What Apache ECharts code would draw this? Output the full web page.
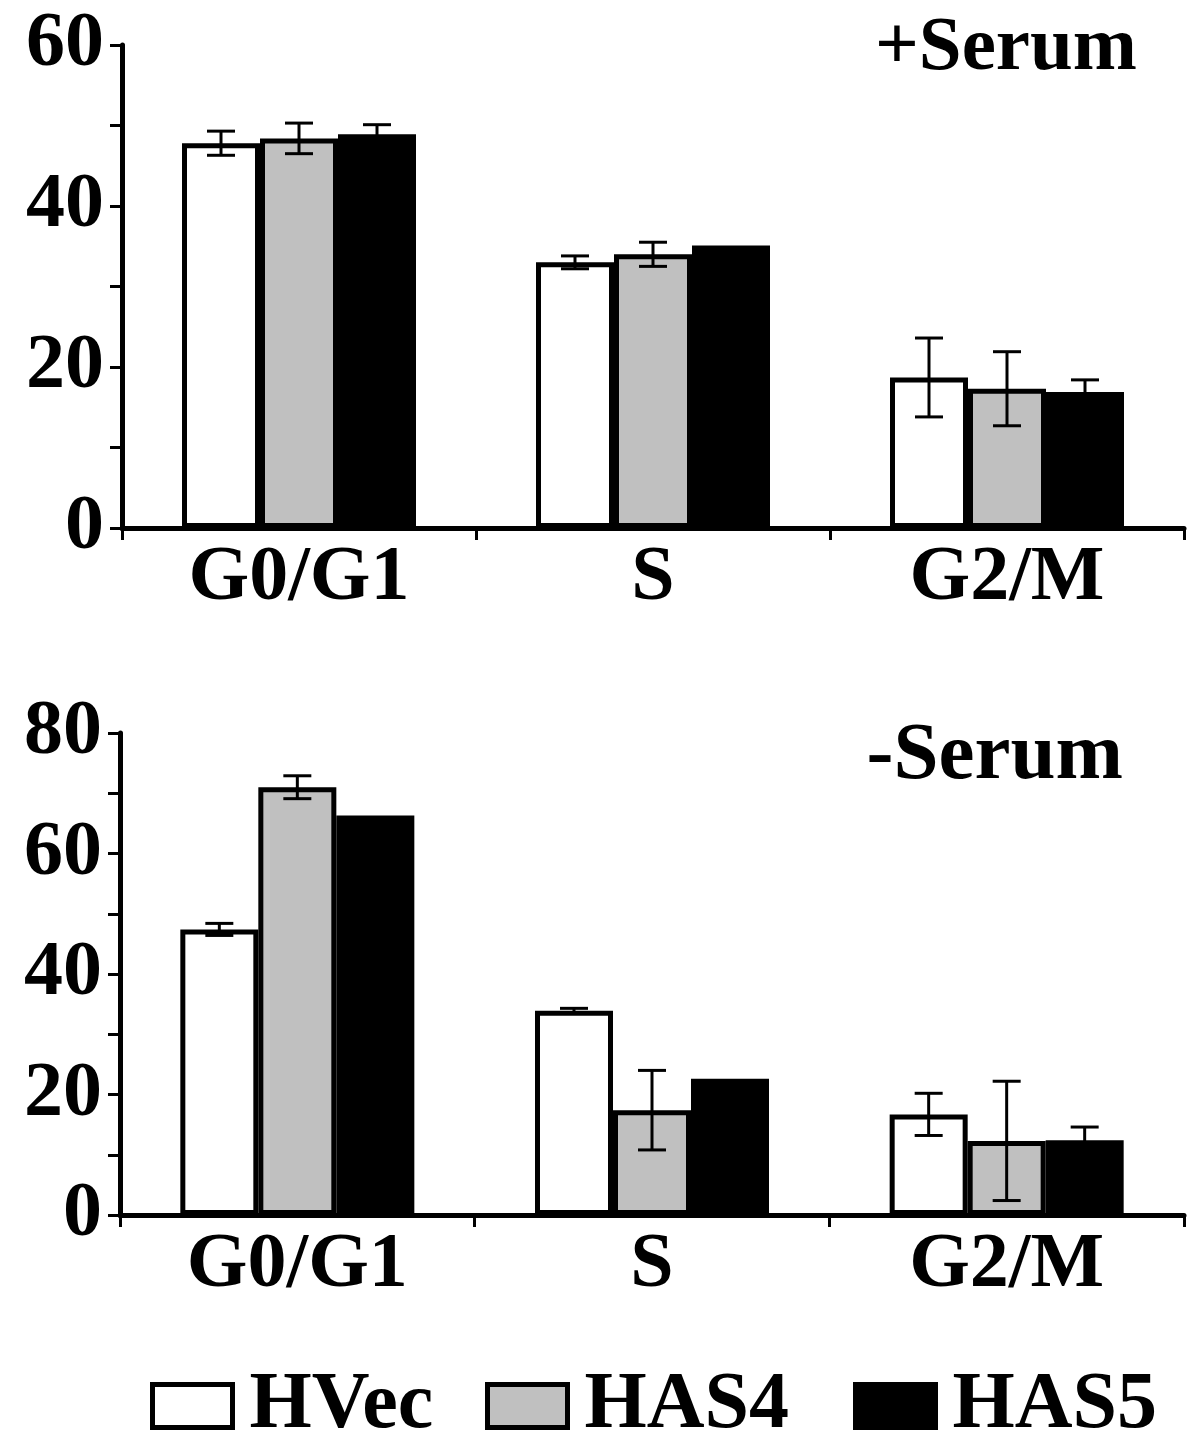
<!DOCTYPE html>
<html>
<head>
<meta charset="utf-8">
<script src="https://cdn.jsdelivr.net/npm/echarts@6/dist/echarts.min.js"></script>
<style>
  html, body { margin: 0; padding: 0; background: #fff; }
  #main { width: 1200px; height: 1447px; }
</style>
</head>
<body>
<div id="main"></div>
<script>
// 数据
const categories  = ['G0/G1', 'S', 'G2/M']
const seriesNames = ['HVec', 'HAS4', 'HAS5']
const colors      = ['#ffffff', '#c0c0c0', '#000000']

// +Serum
const plusHVec    = [47.8, 33.0, 18.7]
const plusHAS4    = [48.4, 34.0, 17.3]
const plusHAS5    = [48.9, 35.1, 16.9]
const plusErrHVec = [1.5, 0.8, 4.9]
const plusErrHAS4 = [1.9, 1.5, 4.6]
const plusErrHAS5 = [1.2, 0, 1.5]

// -Serum
const minusHVec    = [47.4, 33.9, 16.7]
const minusHAS4    = [71.0, 17.4, 12.3]
const minusHAS5    = [66.3, 22.6, 12.4]
const minusErrHVec = [1.0, 0.4, 3.5]
const minusErrHAS4 = [1.9, 6.6, 9.9]
const minusErrHAS5 = [0, 0, 2.2]

const yTicks = { plus: [0, 60], minus: [0, 80] }

const BAR_W = 78
const FONT = "'Liberation Serif', 'Times New Roman', serif"

let chart = echarts.init(document.getElementById('main'))

const xAxisOf = (gi) => ({
    type: 'category',
    gridIndex: gi,
    data: categories,
    axisLine: { lineStyle: { color: '#000', width: 5 } },
    axisTick: { show: true, length: 12, lineStyle: { color: '#000', width: 3 } },
    axisLabel: { color: '#000', fontSize: 78, fontWeight: 'bold', fontFamily: FONT, margin: 12 }
})

const yAxisOf = (gi, range) => ({
    type: 'value',
    gridIndex: gi,
    min: range[0],
    max: range[1],
    interval: 10,
    splitLine: { show: false },
    axisLine: { show: true, lineStyle: { color: '#000', width: 5 } },
    axisTick: { show: true, length: 12, lineStyle: { color: '#000', width: 3 } },
    axisLabel: {
        color: '#000', fontSize: 78, fontWeight: 'bold', fontFamily: FONT, margin: 18,
        formatter: v => (v % 20 === 0 ? String(v) : '')
    }
})

const barOf = (gi, idx, values) => ({
    name: seriesNames[idx],
    type: 'bar',
    xAxisIndex: gi,
    yAxisIndex: gi,
    barWidth: BAR_W,
    barGap: '0%',
    data: values,
    itemStyle: { color: colors[idx], borderColor: '#000', borderWidth: 5 },
    z: 2
})

// 误差线
const errOf = (gi, idx, values, errs) => ({
    name: 'err' + gi + idx,
    type: 'custom',
    xAxisIndex: gi,
    yAxisIndex: gi,
    data: values.map((v, i) => [i, v, errs[i]]),
    encode: { x: 0, y: 1 },
    z: 5,
    renderItem: (params, api) => {
        let e = api.value(2)
        if (!e) return null
        let v = api.value(1)
        let c = api.value(0)
        let hi = api.coord([c, v + e])
        let lo = api.coord([c, v - e])
        let x = hi[0] + (idx - 1) * BAR_W
        let cap = 14
        let style = { stroke: '#000', lineWidth: 3 }
        return {
            type: 'group',
            children: [
                { type: 'line', shape: { x1: x, y1: hi[1], x2: x, y2: lo[1] }, style },
                { type: 'line', shape: { x1: x - cap, y1: hi[1], x2: x + cap, y2: hi[1] }, style },
                { type: 'line', shape: { x1: x - cap, y1: lo[1], x2: x + cap, y2: lo[1] }, style }
            ]
        }
    }
})

// 图例，每项单独放置
const legendLeft = [150, 485, 853]
const legendOf = (idx) => ({
    data: [seriesNames[idx]],
    left: legendLeft[idx],
    top: 1366,
    padding: 0,
    icon: 'rect',
    itemWidth: 80,
    itemHeight: 43,
    itemGap: 0,
    selectedMode: false,
    itemStyle: { borderColor: '#000', borderWidth: 5 },
    textStyle: { color: '#000', fontSize: 80, fontWeight: 'bold', fontFamily: FONT, padding: [0, 0, 0, 12] }
})

let options = {
    animation: false,
    backgroundColor: '#fff',
    title: [
        { text: '+Serum', right: 58, top: 6,
          textStyle: { color: '#000', fontSize: 77, fontWeight: 'bold', fontFamily: FONT } },
        { text: '-Serum', right: 72, top: 712,
          textStyle: { color: '#000', fontSize: 81, fontWeight: 'bold', fontFamily: FONT } }
    ],
    legend: [legendOf(0), legendOf(1), legendOf(2)],
    grid: [
        { left: 122, top: 45, width: 1062, height: 483 },
        { left: 120, top: 733, width: 1064, height: 482 }
    ],
    xAxis: [xAxisOf(0), xAxisOf(1)],
    yAxis: [yAxisOf(0, yTicks.plus), yAxisOf(1, yTicks.minus)],
    series: [
        barOf(0, 0, plusHVec), barOf(0, 1, plusHAS4), barOf(0, 2, plusHAS5),
        barOf(1, 0, minusHVec), barOf(1, 1, minusHAS4), barOf(1, 2, minusHAS5),
        errOf(0, 0, plusHVec, plusErrHVec), errOf(0, 1, plusHAS4, plusErrHAS4), errOf(0, 2, plusHAS5, plusErrHAS5),
        errOf(1, 0, minusHVec, minusErrHVec), errOf(1, 1, minusHAS4, minusErrHAS4), errOf(1, 2, minusHAS5, minusErrHAS5)
    ]
}

chart.setOption(options)
</script>
</body>
</html>
